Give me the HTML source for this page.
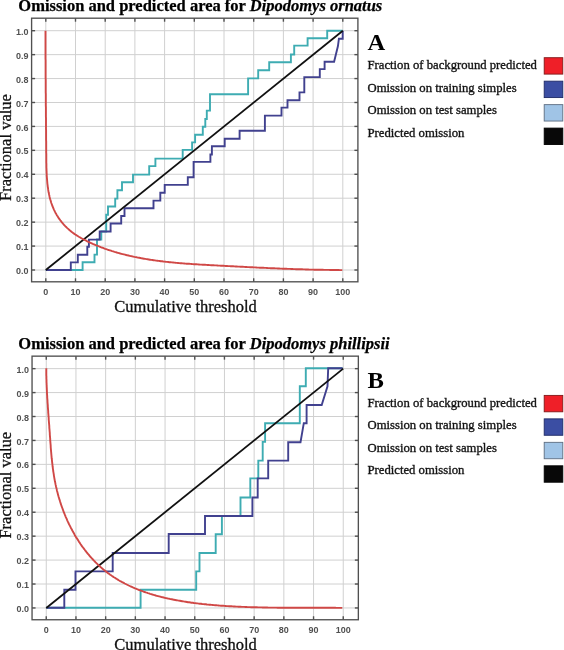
<!DOCTYPE html>
<html><head><meta charset="utf-8"><style>
html,body{margin:0;padding:0;background:#fff;width:564px;height:650px;overflow:hidden}
svg{display:block;filter:blur(0.25px)}
.tl{font-family:"Liberation Sans",sans-serif;font-size:9px;font-weight:bold;fill:#505050}
.ti{font-family:"Liberation Serif",serif;font-size:16.5px;font-weight:bold;fill:#000;stroke:#000;stroke-width:0.25px}
.ax{font-family:"Liberation Serif",serif;font-size:16.5px;fill:#111;stroke:#111;stroke-width:0.3px}
.let{font-family:"Liberation Serif",serif;font-size:23px;font-weight:bold;fill:#000}
.lg{font-family:"Liberation Serif",serif;font-size:12.7px;fill:#141414;stroke:#141414;stroke-width:0.35px}
</style></head><body>
<svg width="564" height="650" viewBox="0 0 564 650">
<rect width="564" height="650" fill="#fff"/>
<g transform="translate(0,0)">
<line x1="45.80" y1="18.20" x2="45.80" y2="281.80" stroke="#d0d0d0" stroke-width="1"/>
<line x1="75.50" y1="18.20" x2="75.50" y2="281.80" stroke="#d0d0d0" stroke-width="1"/>
<line x1="105.20" y1="18.20" x2="105.20" y2="281.80" stroke="#d0d0d0" stroke-width="1"/>
<line x1="134.90" y1="18.20" x2="134.90" y2="281.80" stroke="#d0d0d0" stroke-width="1"/>
<line x1="164.60" y1="18.20" x2="164.60" y2="281.80" stroke="#d0d0d0" stroke-width="1"/>
<line x1="194.30" y1="18.20" x2="194.30" y2="281.80" stroke="#d0d0d0" stroke-width="1"/>
<line x1="224.00" y1="18.20" x2="224.00" y2="281.80" stroke="#d0d0d0" stroke-width="1"/>
<line x1="253.70" y1="18.20" x2="253.70" y2="281.80" stroke="#d0d0d0" stroke-width="1"/>
<line x1="283.40" y1="18.20" x2="283.40" y2="281.80" stroke="#d0d0d0" stroke-width="1"/>
<line x1="313.10" y1="18.20" x2="313.10" y2="281.80" stroke="#d0d0d0" stroke-width="1"/>
<line x1="342.80" y1="18.20" x2="342.80" y2="281.80" stroke="#d0d0d0" stroke-width="1"/>
<line x1="31.6" y1="270.00" x2="357.9" y2="270.00" stroke="#d0d0d0" stroke-width="1"/>
<line x1="31.6" y1="246.07" x2="357.9" y2="246.07" stroke="#d0d0d0" stroke-width="1"/>
<line x1="31.6" y1="222.14" x2="357.9" y2="222.14" stroke="#d0d0d0" stroke-width="1"/>
<line x1="31.6" y1="198.21" x2="357.9" y2="198.21" stroke="#d0d0d0" stroke-width="1"/>
<line x1="31.6" y1="174.28" x2="357.9" y2="174.28" stroke="#d0d0d0" stroke-width="1"/>
<line x1="31.6" y1="150.35" x2="357.9" y2="150.35" stroke="#d0d0d0" stroke-width="1"/>
<line x1="31.6" y1="126.42" x2="357.9" y2="126.42" stroke="#d0d0d0" stroke-width="1"/>
<line x1="31.6" y1="102.49" x2="357.9" y2="102.49" stroke="#d0d0d0" stroke-width="1"/>
<line x1="31.6" y1="78.56" x2="357.9" y2="78.56" stroke="#d0d0d0" stroke-width="1"/>
<line x1="31.6" y1="54.63" x2="357.9" y2="54.63" stroke="#d0d0d0" stroke-width="1"/>
<line x1="31.6" y1="30.70" x2="357.9" y2="30.70" stroke="#d0d0d0" stroke-width="1"/>
<rect x="31.6" y="18.20" width="326.3" height="263.6" fill="none" stroke="#505050" stroke-width="1.35"/>
<line x1="45.80" y1="281.80" x2="45.80" y2="278.30" stroke="#505050" stroke-width="1.4"/>
<line x1="45.80" y1="18.20" x2="45.80" y2="21.70" stroke="#505050" stroke-width="1.4"/>
<line x1="31.6" y1="270.00" x2="35.1" y2="270.00" stroke="#505050" stroke-width="1.4"/>
<line x1="357.9" y1="270.00" x2="354.4" y2="270.00" stroke="#505050" stroke-width="1.4"/>
<line x1="75.50" y1="281.80" x2="75.50" y2="278.30" stroke="#505050" stroke-width="1.4"/>
<line x1="75.50" y1="18.20" x2="75.50" y2="21.70" stroke="#505050" stroke-width="1.4"/>
<line x1="31.6" y1="246.07" x2="35.1" y2="246.07" stroke="#505050" stroke-width="1.4"/>
<line x1="357.9" y1="246.07" x2="354.4" y2="246.07" stroke="#505050" stroke-width="1.4"/>
<line x1="105.20" y1="281.80" x2="105.20" y2="278.30" stroke="#505050" stroke-width="1.4"/>
<line x1="105.20" y1="18.20" x2="105.20" y2="21.70" stroke="#505050" stroke-width="1.4"/>
<line x1="31.6" y1="222.14" x2="35.1" y2="222.14" stroke="#505050" stroke-width="1.4"/>
<line x1="357.9" y1="222.14" x2="354.4" y2="222.14" stroke="#505050" stroke-width="1.4"/>
<line x1="134.90" y1="281.80" x2="134.90" y2="278.30" stroke="#505050" stroke-width="1.4"/>
<line x1="134.90" y1="18.20" x2="134.90" y2="21.70" stroke="#505050" stroke-width="1.4"/>
<line x1="31.6" y1="198.21" x2="35.1" y2="198.21" stroke="#505050" stroke-width="1.4"/>
<line x1="357.9" y1="198.21" x2="354.4" y2="198.21" stroke="#505050" stroke-width="1.4"/>
<line x1="164.60" y1="281.80" x2="164.60" y2="278.30" stroke="#505050" stroke-width="1.4"/>
<line x1="164.60" y1="18.20" x2="164.60" y2="21.70" stroke="#505050" stroke-width="1.4"/>
<line x1="31.6" y1="174.28" x2="35.1" y2="174.28" stroke="#505050" stroke-width="1.4"/>
<line x1="357.9" y1="174.28" x2="354.4" y2="174.28" stroke="#505050" stroke-width="1.4"/>
<line x1="194.30" y1="281.80" x2="194.30" y2="278.30" stroke="#505050" stroke-width="1.4"/>
<line x1="194.30" y1="18.20" x2="194.30" y2="21.70" stroke="#505050" stroke-width="1.4"/>
<line x1="31.6" y1="150.35" x2="35.1" y2="150.35" stroke="#505050" stroke-width="1.4"/>
<line x1="357.9" y1="150.35" x2="354.4" y2="150.35" stroke="#505050" stroke-width="1.4"/>
<line x1="224.00" y1="281.80" x2="224.00" y2="278.30" stroke="#505050" stroke-width="1.4"/>
<line x1="224.00" y1="18.20" x2="224.00" y2="21.70" stroke="#505050" stroke-width="1.4"/>
<line x1="31.6" y1="126.42" x2="35.1" y2="126.42" stroke="#505050" stroke-width="1.4"/>
<line x1="357.9" y1="126.42" x2="354.4" y2="126.42" stroke="#505050" stroke-width="1.4"/>
<line x1="253.70" y1="281.80" x2="253.70" y2="278.30" stroke="#505050" stroke-width="1.4"/>
<line x1="253.70" y1="18.20" x2="253.70" y2="21.70" stroke="#505050" stroke-width="1.4"/>
<line x1="31.6" y1="102.49" x2="35.1" y2="102.49" stroke="#505050" stroke-width="1.4"/>
<line x1="357.9" y1="102.49" x2="354.4" y2="102.49" stroke="#505050" stroke-width="1.4"/>
<line x1="283.40" y1="281.80" x2="283.40" y2="278.30" stroke="#505050" stroke-width="1.4"/>
<line x1="283.40" y1="18.20" x2="283.40" y2="21.70" stroke="#505050" stroke-width="1.4"/>
<line x1="31.6" y1="78.56" x2="35.1" y2="78.56" stroke="#505050" stroke-width="1.4"/>
<line x1="357.9" y1="78.56" x2="354.4" y2="78.56" stroke="#505050" stroke-width="1.4"/>
<line x1="313.10" y1="281.80" x2="313.10" y2="278.30" stroke="#505050" stroke-width="1.4"/>
<line x1="313.10" y1="18.20" x2="313.10" y2="21.70" stroke="#505050" stroke-width="1.4"/>
<line x1="31.6" y1="54.63" x2="35.1" y2="54.63" stroke="#505050" stroke-width="1.4"/>
<line x1="357.9" y1="54.63" x2="354.4" y2="54.63" stroke="#505050" stroke-width="1.4"/>
<line x1="342.80" y1="281.80" x2="342.80" y2="278.30" stroke="#505050" stroke-width="1.4"/>
<line x1="342.80" y1="18.20" x2="342.80" y2="21.70" stroke="#505050" stroke-width="1.4"/>
<line x1="31.6" y1="30.70" x2="35.1" y2="30.70" stroke="#505050" stroke-width="1.4"/>
<line x1="357.9" y1="30.70" x2="354.4" y2="30.70" stroke="#505050" stroke-width="1.4"/>
<text transform="translate(45.80,294.90) scale(1,1.1)" text-anchor="middle" class="tl">0</text>
<text transform="translate(28.6,274.10) scale(1,1.1)" text-anchor="end" class="tl">0.0</text>
<text transform="translate(75.50,294.90) scale(1,1.1)" text-anchor="middle" class="tl">10</text>
<text transform="translate(28.6,250.17) scale(1,1.1)" text-anchor="end" class="tl">0.1</text>
<text transform="translate(105.20,294.90) scale(1,1.1)" text-anchor="middle" class="tl">20</text>
<text transform="translate(28.6,226.24) scale(1,1.1)" text-anchor="end" class="tl">0.2</text>
<text transform="translate(134.90,294.90) scale(1,1.1)" text-anchor="middle" class="tl">30</text>
<text transform="translate(28.6,202.31) scale(1,1.1)" text-anchor="end" class="tl">0.3</text>
<text transform="translate(164.60,294.90) scale(1,1.1)" text-anchor="middle" class="tl">40</text>
<text transform="translate(28.6,178.38) scale(1,1.1)" text-anchor="end" class="tl">0.4</text>
<text transform="translate(194.30,294.90) scale(1,1.1)" text-anchor="middle" class="tl">50</text>
<text transform="translate(28.6,154.45) scale(1,1.1)" text-anchor="end" class="tl">0.5</text>
<text transform="translate(224.00,294.90) scale(1,1.1)" text-anchor="middle" class="tl">60</text>
<text transform="translate(28.6,130.52) scale(1,1.1)" text-anchor="end" class="tl">0.6</text>
<text transform="translate(253.70,294.90) scale(1,1.1)" text-anchor="middle" class="tl">70</text>
<text transform="translate(28.6,106.59) scale(1,1.1)" text-anchor="end" class="tl">0.7</text>
<text transform="translate(283.40,294.90) scale(1,1.1)" text-anchor="middle" class="tl">80</text>
<text transform="translate(28.6,82.66) scale(1,1.1)" text-anchor="end" class="tl">0.8</text>
<text transform="translate(313.10,294.90) scale(1,1.1)" text-anchor="middle" class="tl">90</text>
<text transform="translate(28.6,58.73) scale(1,1.1)" text-anchor="end" class="tl">0.9</text>
<text transform="translate(342.80,294.90) scale(1,1.1)" text-anchor="middle" class="tl">100</text>
<text transform="translate(28.6,34.80) scale(1,1.1)" text-anchor="end" class="tl">1.0</text>
</g>
<polyline points="45.8,270.0 82.6,270.0 82.6,262.2 94.5,262.2 94.5,254.6 97.0,254.6 97.0,239.5 101.3,239.5 101.3,231.5 106.2,231.5 106.2,214.8 108.0,214.8 108.0,206.5 115.2,206.5 115.2,198.6 117.4,198.6 117.4,190.3 122.0,190.3 122.0,182.2 133.0,182.2 133.0,174.6 149.2,174.6 149.2,166.1 155.4,166.1 155.4,158.6 182.7,158.6 182.7,149.9 192.1,149.9 192.1,142.4 195.1,142.4 195.1,134.7 202.8,134.7 202.8,126.8 205.3,126.8 205.3,119.0 206.8,119.0 206.8,110.6 210.0,110.6 210.0,94.3 248.1,94.3 248.1,78.4 258.2,78.4 258.2,70.3 269.2,70.3 269.2,62.2 290.9,62.2 290.9,54.5 294.2,54.5 294.2,45.6 307.6,45.6 307.6,38.2 327.2,38.2 327.2,30.8 342.7,30.8" fill="none" stroke="#3eacb2" stroke-width="1.9"/>
<polyline points="45.8,270.0 70.8,270.0 70.8,262.4 77.8,262.4 77.8,254.8 87.3,254.8 87.3,246.8 88.9,246.8 88.9,239.6 99.7,239.6 99.7,231.5 110.6,231.5 110.6,223.5 121.2,223.5 121.2,216.0 124.5,216.0 124.5,208.2 153.5,208.2 153.5,200.6 160.3,200.6 160.3,192.7 164.7,192.7 164.7,184.9 187.8,184.9 187.8,177.3 193.6,177.3 193.6,161.9 210.4,161.9 210.4,154.5 211.9,154.5 211.9,146.3 224.7,146.3 224.7,138.8 239.6,138.8 239.6,130.8 264.9,130.8 264.9,115.6 281.5,115.6 281.5,107.6 287.5,107.6 287.5,100.3 299.5,100.3 299.5,92.4 304.3,92.4 304.3,77.1 319.8,77.1 319.8,69.1 324.6,69.1 324.6,61.7 334.1,61.7 337.9,46.3 338.9,38.8 342.7,38.8 342.7,30.8" fill="none" stroke="#41418f" stroke-width="1.9"/>
<line x1="45.80" y1="270.00" x2="342.80" y2="30.70" stroke="#111111" stroke-width="1.8"/>
<polyline points="45.5,30.8 45.5,32.0 45.5,33.2 45.5,34.5 45.5,35.7 45.5,36.9 45.5,38.1 45.5,39.4 45.5,40.6 45.5,41.8 45.5,43.0 45.5,44.2 45.5,45.5 45.5,46.7 45.5,47.9 45.5,49.1 45.5,50.3 45.5,51.5 45.5,52.8 45.5,54.0 45.5,55.2 45.5,56.4 45.5,57.6 45.5,58.8 45.6,60.0 45.6,61.2 45.6,62.4 45.6,63.7 45.6,64.9 45.6,66.1 45.6,67.3 45.6,68.5 45.6,69.7 45.6,70.9 45.6,72.1 45.6,73.3 45.6,74.5 45.6,75.7 45.6,76.9 45.6,78.1 45.7,79.3 45.7,80.5 45.7,81.7 45.7,82.9 45.7,84.2 45.7,85.4 45.7,86.6 45.7,87.8 45.7,89.0 45.7,90.2 45.7,91.4 45.7,92.6 45.8,93.8 45.8,95.0 45.8,96.2 45.8,97.4 45.8,98.6 45.8,99.8 45.8,101.0 45.8,102.2 45.8,103.4 45.8,104.7 45.8,105.9 45.9,107.1 45.9,108.3 45.9,109.5 45.9,110.7 45.9,111.9 45.9,113.1 45.9,114.4 45.9,115.6 45.9,116.8 46.0,118.0 46.0,119.2 46.0,120.4 46.0,121.7 46.0,122.9 46.0,124.1 46.0,125.3 46.0,126.5 46.0,127.8 46.0,129.0 46.1,130.2 46.1,131.5 46.1,132.7 46.1,133.9 46.1,135.1 46.1,136.4 46.1,137.6 46.1,138.8 46.1,140.1 46.2,141.3 46.2,142.6 46.2,143.8 46.2,145.0 46.2,146.3 46.2,147.5 46.2,148.8 46.2,150.0 46.2,151.3 46.2,152.5 46.3,153.8 46.3,155.0 46.3,156.3 46.3,157.5 46.3,158.8 46.3,160.1 46.3,161.3 46.3,162.6 46.4,163.9 46.4,165.1 46.4,166.4 46.4,167.6 46.5,168.9 46.5,170.2 46.6,171.4 46.6,172.7 46.7,173.9 46.7,175.2 46.8,176.4 46.9,177.7 47.0,178.9 47.1,180.1 47.2,181.4 47.3,182.6 47.4,183.8 47.6,185.1 47.7,186.3 47.9,187.5 48.1,188.7 48.2,189.9 48.4,191.1 48.6,192.3 48.9,193.5 49.1,194.7 49.4,195.8 49.6,197.0 49.9,198.2 50.2,199.3 50.6,200.4 50.9,201.6 51.2,202.7 51.6,203.8 52.0,204.9 52.4,206.0 52.9,207.1 53.3,208.2 53.8,209.3 54.3,210.3 54.8,211.4 55.3,212.4 55.9,213.4 56.4,214.4 57.0,215.5 57.7,216.4 58.3,217.4 58.9,218.4 59.6,219.3 60.3,220.3 61.0,221.2 61.7,222.1 62.5,223.0 63.2,223.9 64.0,224.8 64.8,225.7 65.6,226.5 66.5,227.3 67.3,228.1 68.2,228.9 69.1,229.7 70.0,230.5 70.9,231.2 71.8,232.0 72.8,232.7 73.7,233.4 74.7,234.1 75.7,234.7 76.7,235.4 77.7,236.0 78.8,236.7 79.8,237.3 80.8,237.9 81.9,238.5 83.0,239.1 84.0,239.6 85.1,240.2 86.2,240.7 87.3,241.3 88.4,241.8 89.5,242.3 90.6,242.8 91.7,243.3 92.8,243.8 94.0,244.3 95.1,244.8 96.2,245.3 97.3,245.7 98.4,246.2 99.6,246.6 100.7,247.1 101.8,247.5 103.0,247.9 104.1,248.4 105.2,248.8 106.4,249.2 107.5,249.6 108.7,250.0 109.8,250.3 111.0,250.7 112.1,251.1 113.3,251.4 114.5,251.8 115.6,252.1 116.8,252.5 117.9,252.8 119.1,253.1 120.3,253.5 121.4,253.8 122.6,254.1 123.8,254.4 125.0,254.7 126.1,255.0 127.3,255.3 128.5,255.5 129.7,255.8 130.9,256.1 132.1,256.3 133.2,256.6 134.4,256.9 135.6,257.1 136.8,257.3 138.0,257.6 139.2,257.8 140.4,258.0 141.6,258.3 142.8,258.5 144.0,258.7 145.2,258.9 146.4,259.1 147.6,259.3 148.8,259.5 150.0,259.7 151.2,259.9 152.4,260.0 153.6,260.2 154.9,260.4 156.1,260.6 157.3,260.7 158.5,260.9 159.7,261.0 160.9,261.2 162.1,261.3 163.4,261.5 164.6,261.6 165.8,261.8 167.0,261.9 168.2,262.0 169.5,262.2 170.7,262.3 171.9,262.4 173.1,262.5 174.3,262.6 175.6,262.8 176.8,262.9 178.0,263.0 179.2,263.1 180.5,263.2 181.7,263.3 182.9,263.4 184.2,263.5 185.4,263.6 186.6,263.7 187.8,263.8 189.1,263.8 190.3,263.9 191.5,264.0 192.7,264.1 194.0,264.2 195.2,264.3 196.4,264.3 197.7,264.4 198.9,264.5 200.1,264.6 201.3,264.6 202.6,264.7 203.8,264.8 205.0,264.8 206.3,264.9 207.5,265.0 208.7,265.0 209.9,265.1 211.2,265.2 212.4,265.2 213.6,265.3 214.8,265.4 216.1,265.4 217.3,265.5 218.5,265.6 219.7,265.6 220.9,265.7 222.2,265.8 223.4,265.8 224.6,265.9 225.8,266.0 227.0,266.0 228.3,266.1 229.5,266.1 230.7,266.2 231.9,266.3 233.1,266.3 234.3,266.4 235.6,266.5 236.8,266.5 238.0,266.6 239.2,266.6 240.4,266.7 241.6,266.8 242.8,266.8 244.1,266.9 245.3,267.0 246.5,267.0 247.7,267.1 248.9,267.1 250.1,267.2 251.3,267.3 252.5,267.3 253.7,267.4 255.0,267.4 256.2,267.5 257.4,267.6 258.6,267.6 259.8,267.7 261.0,267.7 262.2,267.8 263.4,267.8 264.6,267.9 265.8,267.9 267.0,268.0 268.3,268.1 269.5,268.1 270.7,268.2 271.9,268.2 273.1,268.3 274.3,268.3 275.5,268.4 276.7,268.4 277.9,268.5 279.1,268.5 280.3,268.6 281.5,268.6 282.8,268.7 284.0,268.7 285.2,268.8 286.4,268.8 287.6,268.9 288.8,268.9 290.0,268.9 291.2,269.0 292.4,269.0 293.6,269.1 294.8,269.1 296.1,269.2 297.3,269.2 298.5,269.2 299.7,269.3 300.9,269.3 302.1,269.3 303.3,269.4 304.5,269.4 305.7,269.5 307.0,269.5 308.2,269.5 309.4,269.6 310.6,269.6 311.8,269.6 313.0,269.6 314.2,269.7 315.5,269.7 316.7,269.7 317.9,269.8 319.1,269.8 320.3,269.8 321.5,269.8 322.8,269.8 324.0,269.9 325.2,269.9 326.4,269.9 327.6,269.9 328.9,269.9 330.1,270.0 331.3,270.0 332.5,270.0 333.7,270.0 335.0,270.0 336.2,270.0 337.4,270.0 338.6,270.0 339.9,270.1 341.1,270.1 342.3,270.1" fill="none" stroke="#d04846" stroke-width="1.9" stroke-linejoin="round"/>
<text x="18.3" y="10.80" class="ti">Omission and predicted area for <tspan font-style="italic">Dipodomys ornatus</tspan></text>
<text x="114.3" y="312.00" class="ax">Cumulative threshold</text>
<text transform="translate(11.3,147.50) rotate(-90)" text-anchor="middle" class="ax">Fractional value</text>
<text transform="translate(367.4,49.90) scale(1.07,1.02)" class="let">A</text>
<text x="367.5" y="68.90" class="lg">Fraction of background predicted</text>
<rect x="544.2" y="57.70" width="18.6" height="16.4" fill="#ef1f28" stroke="#801818" stroke-width="0.9"/>
<text x="367.5" y="91.53" class="lg">Omission on training simples</text>
<rect x="544.2" y="81.17" width="18.6" height="16.4" fill="#3b4ea3" stroke="#1e2a66" stroke-width="0.9"/>
<text x="367.5" y="114.16" class="lg">Omission on test samples</text>
<rect x="544.2" y="104.64" width="18.6" height="16.4" fill="#a0c4e6" stroke="#5d6d80" stroke-width="0.9"/>
<text x="367.5" y="136.79" class="lg">Predicted omission</text>
<rect x="544.2" y="128.11" width="18.6" height="16.4" fill="#080808" stroke="#000000" stroke-width="0.9"/>
<g transform="translate(0.45,0.25)">
<line x1="45.80" y1="355.90" x2="45.80" y2="619.50" stroke="#d0d0d0" stroke-width="1"/>
<line x1="75.50" y1="355.90" x2="75.50" y2="619.50" stroke="#d0d0d0" stroke-width="1"/>
<line x1="105.20" y1="355.90" x2="105.20" y2="619.50" stroke="#d0d0d0" stroke-width="1"/>
<line x1="134.90" y1="355.90" x2="134.90" y2="619.50" stroke="#d0d0d0" stroke-width="1"/>
<line x1="164.60" y1="355.90" x2="164.60" y2="619.50" stroke="#d0d0d0" stroke-width="1"/>
<line x1="194.30" y1="355.90" x2="194.30" y2="619.50" stroke="#d0d0d0" stroke-width="1"/>
<line x1="224.00" y1="355.90" x2="224.00" y2="619.50" stroke="#d0d0d0" stroke-width="1"/>
<line x1="253.70" y1="355.90" x2="253.70" y2="619.50" stroke="#d0d0d0" stroke-width="1"/>
<line x1="283.40" y1="355.90" x2="283.40" y2="619.50" stroke="#d0d0d0" stroke-width="1"/>
<line x1="313.10" y1="355.90" x2="313.10" y2="619.50" stroke="#d0d0d0" stroke-width="1"/>
<line x1="342.80" y1="355.90" x2="342.80" y2="619.50" stroke="#d0d0d0" stroke-width="1"/>
<line x1="31.6" y1="607.70" x2="357.9" y2="607.70" stroke="#d0d0d0" stroke-width="1"/>
<line x1="31.6" y1="583.77" x2="357.9" y2="583.77" stroke="#d0d0d0" stroke-width="1"/>
<line x1="31.6" y1="559.84" x2="357.9" y2="559.84" stroke="#d0d0d0" stroke-width="1"/>
<line x1="31.6" y1="535.91" x2="357.9" y2="535.91" stroke="#d0d0d0" stroke-width="1"/>
<line x1="31.6" y1="511.98" x2="357.9" y2="511.98" stroke="#d0d0d0" stroke-width="1"/>
<line x1="31.6" y1="488.05" x2="357.9" y2="488.05" stroke="#d0d0d0" stroke-width="1"/>
<line x1="31.6" y1="464.12" x2="357.9" y2="464.12" stroke="#d0d0d0" stroke-width="1"/>
<line x1="31.6" y1="440.19" x2="357.9" y2="440.19" stroke="#d0d0d0" stroke-width="1"/>
<line x1="31.6" y1="416.26" x2="357.9" y2="416.26" stroke="#d0d0d0" stroke-width="1"/>
<line x1="31.6" y1="392.33" x2="357.9" y2="392.33" stroke="#d0d0d0" stroke-width="1"/>
<line x1="31.6" y1="368.40" x2="357.9" y2="368.40" stroke="#d0d0d0" stroke-width="1"/>
<rect x="31.6" y="355.90" width="326.3" height="263.6" fill="none" stroke="#505050" stroke-width="1.35"/>
<line x1="45.80" y1="619.50" x2="45.80" y2="616.00" stroke="#505050" stroke-width="1.4"/>
<line x1="45.80" y1="355.90" x2="45.80" y2="359.40" stroke="#505050" stroke-width="1.4"/>
<line x1="31.6" y1="607.70" x2="35.1" y2="607.70" stroke="#505050" stroke-width="1.4"/>
<line x1="357.9" y1="607.70" x2="354.4" y2="607.70" stroke="#505050" stroke-width="1.4"/>
<line x1="75.50" y1="619.50" x2="75.50" y2="616.00" stroke="#505050" stroke-width="1.4"/>
<line x1="75.50" y1="355.90" x2="75.50" y2="359.40" stroke="#505050" stroke-width="1.4"/>
<line x1="31.6" y1="583.77" x2="35.1" y2="583.77" stroke="#505050" stroke-width="1.4"/>
<line x1="357.9" y1="583.77" x2="354.4" y2="583.77" stroke="#505050" stroke-width="1.4"/>
<line x1="105.20" y1="619.50" x2="105.20" y2="616.00" stroke="#505050" stroke-width="1.4"/>
<line x1="105.20" y1="355.90" x2="105.20" y2="359.40" stroke="#505050" stroke-width="1.4"/>
<line x1="31.6" y1="559.84" x2="35.1" y2="559.84" stroke="#505050" stroke-width="1.4"/>
<line x1="357.9" y1="559.84" x2="354.4" y2="559.84" stroke="#505050" stroke-width="1.4"/>
<line x1="134.90" y1="619.50" x2="134.90" y2="616.00" stroke="#505050" stroke-width="1.4"/>
<line x1="134.90" y1="355.90" x2="134.90" y2="359.40" stroke="#505050" stroke-width="1.4"/>
<line x1="31.6" y1="535.91" x2="35.1" y2="535.91" stroke="#505050" stroke-width="1.4"/>
<line x1="357.9" y1="535.91" x2="354.4" y2="535.91" stroke="#505050" stroke-width="1.4"/>
<line x1="164.60" y1="619.50" x2="164.60" y2="616.00" stroke="#505050" stroke-width="1.4"/>
<line x1="164.60" y1="355.90" x2="164.60" y2="359.40" stroke="#505050" stroke-width="1.4"/>
<line x1="31.6" y1="511.98" x2="35.1" y2="511.98" stroke="#505050" stroke-width="1.4"/>
<line x1="357.9" y1="511.98" x2="354.4" y2="511.98" stroke="#505050" stroke-width="1.4"/>
<line x1="194.30" y1="619.50" x2="194.30" y2="616.00" stroke="#505050" stroke-width="1.4"/>
<line x1="194.30" y1="355.90" x2="194.30" y2="359.40" stroke="#505050" stroke-width="1.4"/>
<line x1="31.6" y1="488.05" x2="35.1" y2="488.05" stroke="#505050" stroke-width="1.4"/>
<line x1="357.9" y1="488.05" x2="354.4" y2="488.05" stroke="#505050" stroke-width="1.4"/>
<line x1="224.00" y1="619.50" x2="224.00" y2="616.00" stroke="#505050" stroke-width="1.4"/>
<line x1="224.00" y1="355.90" x2="224.00" y2="359.40" stroke="#505050" stroke-width="1.4"/>
<line x1="31.6" y1="464.12" x2="35.1" y2="464.12" stroke="#505050" stroke-width="1.4"/>
<line x1="357.9" y1="464.12" x2="354.4" y2="464.12" stroke="#505050" stroke-width="1.4"/>
<line x1="253.70" y1="619.50" x2="253.70" y2="616.00" stroke="#505050" stroke-width="1.4"/>
<line x1="253.70" y1="355.90" x2="253.70" y2="359.40" stroke="#505050" stroke-width="1.4"/>
<line x1="31.6" y1="440.19" x2="35.1" y2="440.19" stroke="#505050" stroke-width="1.4"/>
<line x1="357.9" y1="440.19" x2="354.4" y2="440.19" stroke="#505050" stroke-width="1.4"/>
<line x1="283.40" y1="619.50" x2="283.40" y2="616.00" stroke="#505050" stroke-width="1.4"/>
<line x1="283.40" y1="355.90" x2="283.40" y2="359.40" stroke="#505050" stroke-width="1.4"/>
<line x1="31.6" y1="416.26" x2="35.1" y2="416.26" stroke="#505050" stroke-width="1.4"/>
<line x1="357.9" y1="416.26" x2="354.4" y2="416.26" stroke="#505050" stroke-width="1.4"/>
<line x1="313.10" y1="619.50" x2="313.10" y2="616.00" stroke="#505050" stroke-width="1.4"/>
<line x1="313.10" y1="355.90" x2="313.10" y2="359.40" stroke="#505050" stroke-width="1.4"/>
<line x1="31.6" y1="392.33" x2="35.1" y2="392.33" stroke="#505050" stroke-width="1.4"/>
<line x1="357.9" y1="392.33" x2="354.4" y2="392.33" stroke="#505050" stroke-width="1.4"/>
<line x1="342.80" y1="619.50" x2="342.80" y2="616.00" stroke="#505050" stroke-width="1.4"/>
<line x1="342.80" y1="355.90" x2="342.80" y2="359.40" stroke="#505050" stroke-width="1.4"/>
<line x1="31.6" y1="368.40" x2="35.1" y2="368.40" stroke="#505050" stroke-width="1.4"/>
<line x1="357.9" y1="368.40" x2="354.4" y2="368.40" stroke="#505050" stroke-width="1.4"/>
<text transform="translate(45.80,632.60) scale(1,1.1)" text-anchor="middle" class="tl">0</text>
<text transform="translate(28.6,611.80) scale(1,1.1)" text-anchor="end" class="tl">0.0</text>
<text transform="translate(75.50,632.60) scale(1,1.1)" text-anchor="middle" class="tl">10</text>
<text transform="translate(28.6,587.87) scale(1,1.1)" text-anchor="end" class="tl">0.1</text>
<text transform="translate(105.20,632.60) scale(1,1.1)" text-anchor="middle" class="tl">20</text>
<text transform="translate(28.6,563.94) scale(1,1.1)" text-anchor="end" class="tl">0.2</text>
<text transform="translate(134.90,632.60) scale(1,1.1)" text-anchor="middle" class="tl">30</text>
<text transform="translate(28.6,540.01) scale(1,1.1)" text-anchor="end" class="tl">0.3</text>
<text transform="translate(164.60,632.60) scale(1,1.1)" text-anchor="middle" class="tl">40</text>
<text transform="translate(28.6,516.08) scale(1,1.1)" text-anchor="end" class="tl">0.4</text>
<text transform="translate(194.30,632.60) scale(1,1.1)" text-anchor="middle" class="tl">50</text>
<text transform="translate(28.6,492.15) scale(1,1.1)" text-anchor="end" class="tl">0.5</text>
<text transform="translate(224.00,632.60) scale(1,1.1)" text-anchor="middle" class="tl">60</text>
<text transform="translate(28.6,468.22) scale(1,1.1)" text-anchor="end" class="tl">0.6</text>
<text transform="translate(253.70,632.60) scale(1,1.1)" text-anchor="middle" class="tl">70</text>
<text transform="translate(28.6,444.29) scale(1,1.1)" text-anchor="end" class="tl">0.7</text>
<text transform="translate(283.40,632.60) scale(1,1.1)" text-anchor="middle" class="tl">80</text>
<text transform="translate(28.6,420.36) scale(1,1.1)" text-anchor="end" class="tl">0.8</text>
<text transform="translate(313.10,632.60) scale(1,1.1)" text-anchor="middle" class="tl">90</text>
<text transform="translate(28.6,396.43) scale(1,1.1)" text-anchor="end" class="tl">0.9</text>
<text transform="translate(342.80,632.60) scale(1,1.1)" text-anchor="middle" class="tl">100</text>
<text transform="translate(28.6,372.50) scale(1,1.1)" text-anchor="end" class="tl">1.0</text>
</g>
<polyline points="46.4,607.8 140.6,607.8 140.6,589.7 196.2,589.7 196.2,571.4 199.5,571.4 199.5,553.0 215.7,553.0 215.7,534.2 221.9,534.2 221.9,516.0 240.5,516.0 240.5,497.5 250.3,497.5 250.3,478.4 258.3,478.4 258.3,460.6 262.7,460.6 262.7,441.9 265.1,441.9 265.1,423.2 299.8,423.2 299.8,386.3 305.8,386.3 305.8,368.3 342.6,368.3" fill="none" stroke="#3eacb2" stroke-width="1.9"/>
<polyline points="46.4,607.8 64.3,607.8 64.3,589.8 75.5,589.8 75.5,571.4 112.7,571.4 112.7,553.0 168.7,553.0 168.7,534.0 205.0,534.0 205.0,516.0 252.4,516.0 252.4,497.5 257.7,497.5 257.7,478.4 268.2,478.4 268.2,460.6 288.2,460.6 288.2,442.2 300.5,442.2 303.8,423.2 306.6,423.2 306.6,405.0 321.7,405.0 327.5,386.3 328.2,368.3 342.6,368.3" fill="none" stroke="#41418f" stroke-width="1.9"/>
<line x1="46.25" y1="607.95" x2="343.25" y2="368.65" stroke="#111111" stroke-width="1.8"/>
<polyline points="46.3,368.3 46.3,369.5 46.3,370.6 46.3,371.8 46.3,372.9 46.3,374.1 46.3,375.3 46.4,376.4 46.4,377.6 46.4,378.7 46.5,379.9 46.5,381.1 46.5,382.2 46.6,383.4 46.6,384.5 46.7,385.7 46.7,386.9 46.8,388.0 46.8,389.2 46.9,390.4 46.9,391.5 47.0,392.7 47.0,393.8 47.1,395.0 47.2,396.2 47.2,397.3 47.3,398.5 47.4,399.6 47.5,400.8 47.5,401.9 47.6,403.1 47.7,404.3 47.8,405.4 47.8,406.6 47.9,407.7 48.0,408.9 48.1,410.1 48.2,411.2 48.2,412.4 48.3,413.5 48.4,414.7 48.5,415.8 48.6,417.0 48.7,418.2 48.7,419.3 48.8,420.5 48.9,421.6 49.0,422.8 49.1,423.9 49.2,425.1 49.3,426.2 49.3,427.4 49.4,428.6 49.5,429.7 49.6,430.9 49.7,432.0 49.8,433.2 49.8,434.3 49.9,435.5 50.0,436.6 50.1,437.8 50.2,438.9 50.2,440.1 50.3,441.2 50.4,442.4 50.5,443.5 50.6,444.7 50.7,445.8 50.7,447.0 50.8,448.1 50.9,449.3 51.0,450.4 51.1,451.6 51.2,452.7 51.3,453.9 51.4,455.0 51.5,456.2 51.6,457.3 51.7,458.5 51.9,459.6 52.0,460.8 52.1,461.9 52.2,463.0 52.4,464.2 52.5,465.3 52.6,466.5 52.8,467.6 52.9,468.8 53.1,469.9 53.2,471.0 53.4,472.2 53.6,473.3 53.8,474.5 53.9,475.6 54.1,476.7 54.3,477.9 54.5,479.0 54.7,480.2 54.9,481.3 55.2,482.4 55.4,483.6 55.6,484.7 55.9,485.8 56.1,487.0 56.4,488.1 56.7,489.2 56.9,490.4 57.2,491.5 57.5,492.6 57.8,493.8 58.1,494.9 58.4,496.0 58.7,497.1 59.1,498.3 59.4,499.4 59.8,500.5 60.1,501.6 60.5,502.8 60.8,503.9 61.2,505.0 61.6,506.1 62.0,507.2 62.4,508.3 62.8,509.4 63.2,510.5 63.6,511.6 64.0,512.7 64.5,513.8 64.9,514.9 65.4,516.0 65.8,517.1 66.3,518.1 66.8,519.2 67.2,520.3 67.7,521.4 68.2,522.4 68.7,523.5 69.2,524.5 69.8,525.6 70.3,526.6 70.8,527.7 71.4,528.7 71.9,529.8 72.5,530.8 73.0,531.8 73.6,532.8 74.2,533.8 74.7,534.9 75.3,535.9 75.9,536.9 76.5,537.9 77.2,538.8 77.8,539.8 78.4,540.8 79.0,541.8 79.7,542.7 80.3,543.7 81.0,544.7 81.6,545.6 82.3,546.6 83.0,547.5 83.7,548.4 84.4,549.3 85.1,550.3 85.8,551.2 86.5,552.1 87.2,553.0 87.9,553.8 88.7,554.7 89.4,555.6 90.2,556.5 90.9,557.3 91.7,558.2 92.5,559.0 93.2,559.8 94.0,560.7 94.8,561.5 95.6,562.3 96.4,563.1 97.2,563.9 98.0,564.7 98.9,565.4 99.7,566.2 100.5,567.0 101.4,567.7 102.2,568.5 103.1,569.2 104.0,569.9 104.8,570.6 105.7,571.3 106.6,572.0 107.5,572.7 108.4,573.4 109.3,574.0 110.2,574.7 111.1,575.3 112.1,576.0 113.0,576.6 113.9,577.2 114.9,577.8 115.8,578.4 116.8,579.0 117.8,579.6 118.7,580.2 119.7,580.8 120.7,581.3 121.7,581.9 122.7,582.4 123.7,582.9 124.7,583.5 125.7,584.0 126.7,584.5 127.7,585.0 128.7,585.5 129.8,586.0 130.8,586.5 131.8,586.9 132.9,587.4 133.9,587.8 135.0,588.3 136.0,588.7 137.1,589.2 138.2,589.6 139.2,590.0 140.3,590.4 141.4,590.8 142.5,591.2 143.5,591.6 144.6,592.0 145.7,592.4 146.8,592.7 147.9,593.1 149.0,593.4 150.1,593.8 151.2,594.1 152.4,594.5 153.5,594.8 154.6,595.1 155.7,595.5 156.8,595.8 158.0,596.1 159.1,596.4 160.2,596.7 161.4,597.0 162.5,597.2 163.7,597.5 164.8,597.8 165.9,598.1 167.1,598.3 168.2,598.6 169.4,598.8 170.6,599.1 171.7,599.3 172.9,599.5 174.0,599.8 175.2,600.0 176.4,600.2 177.5,600.4 178.7,600.6 179.9,600.8 181.0,601.0 182.2,601.2 183.4,601.4 184.5,601.6 185.7,601.8 186.9,602.0 188.1,602.2 189.2,602.3 190.4,602.5 191.6,602.7 192.8,602.8 193.9,603.0 195.1,603.1 196.3,603.3 197.5,603.4 198.7,603.6 199.8,603.7 201.0,603.8 202.2,604.0 203.4,604.1 204.6,604.2 205.7,604.3 206.9,604.5 208.1,604.6 209.3,604.7 210.4,604.8 211.6,604.9 212.8,605.0 214.0,605.1 215.1,605.2 216.3,605.3 217.5,605.4 218.6,605.5 219.8,605.6 221.0,605.7 222.1,605.8 223.3,605.8 224.5,605.9 225.6,606.0 226.8,606.1 228.0,606.1 229.1,606.2 230.3,606.3 231.5,606.3 232.6,606.4 233.8,606.5 234.9,606.5 236.1,606.6 237.3,606.6 238.4,606.7 239.6,606.8 240.7,606.8 241.9,606.9 243.0,606.9 244.2,606.9 245.3,607.0 246.5,607.0 247.6,607.1 248.8,607.1 250.0,607.1 251.1,607.2 252.3,607.2 253.4,607.3 254.6,607.3 255.7,607.3 256.9,607.3 258.0,607.4 259.2,607.4 260.3,607.4 261.5,607.4 262.6,607.5 263.8,607.5 264.9,607.5 266.1,607.5 267.2,607.5 268.4,607.6 269.5,607.6 270.6,607.6 271.8,607.6 272.9,607.6 274.1,607.6 275.2,607.6 276.4,607.6 277.5,607.7 278.7,607.7 279.8,607.7 281.0,607.7 282.1,607.7 283.3,607.7 284.4,607.7 285.6,607.7 286.7,607.7 287.9,607.7 289.0,607.7 290.2,607.7 291.3,607.7 292.5,607.7 293.6,607.7 294.8,607.7 295.9,607.7 297.1,607.7 298.2,607.7 299.4,607.7 300.5,607.7 301.7,607.7 302.8,607.7 304.0,607.7 305.1,607.7 306.3,607.7 307.4,607.7 308.6,607.7 309.7,607.7 310.9,607.7 312.1,607.7 313.2,607.7 314.4,607.7 315.5,607.7 316.7,607.7 317.8,607.7 319.0,607.7 320.2,607.7 321.3,607.7 322.5,607.7 323.6,607.8 324.8,607.8 326.0,607.8 327.1,607.8 328.3,607.8 329.5,607.8 330.6,607.8 331.8,607.8 333.0,607.8 334.1,607.8 335.3,607.8 336.5,607.9 337.6,607.9 338.8,607.9 340.0,607.9 341.2,607.9 342.3,607.9" fill="none" stroke="#d04846" stroke-width="1.9" stroke-linejoin="round"/>
<text x="18.3" y="348.50" class="ti">Omission and predicted area for <tspan font-style="italic">Dipodomys phillipsii</tspan></text>
<text x="114.3" y="649.70" class="ax">Cumulative threshold</text>
<text transform="translate(11.3,485.20) rotate(-90)" text-anchor="middle" class="ax">Fractional value</text>
<text transform="translate(367.4,387.60) scale(1.07,1.02)" class="let">B</text>
<text x="367.5" y="406.60" class="lg">Fraction of background predicted</text>
<rect x="544.2" y="395.40" width="18.6" height="16.4" fill="#ef1f28" stroke="#801818" stroke-width="0.9"/>
<text x="367.5" y="429.23" class="lg">Omission on training simples</text>
<rect x="544.2" y="418.87" width="18.6" height="16.4" fill="#3b4ea3" stroke="#1e2a66" stroke-width="0.9"/>
<text x="367.5" y="451.86" class="lg">Omission on test samples</text>
<rect x="544.2" y="442.34" width="18.6" height="16.4" fill="#a0c4e6" stroke="#5d6d80" stroke-width="0.9"/>
<text x="367.5" y="474.49" class="lg">Predicted omission</text>
<rect x="544.2" y="465.81" width="18.6" height="16.4" fill="#080808" stroke="#000000" stroke-width="0.9"/>
</svg>
</body></html>
